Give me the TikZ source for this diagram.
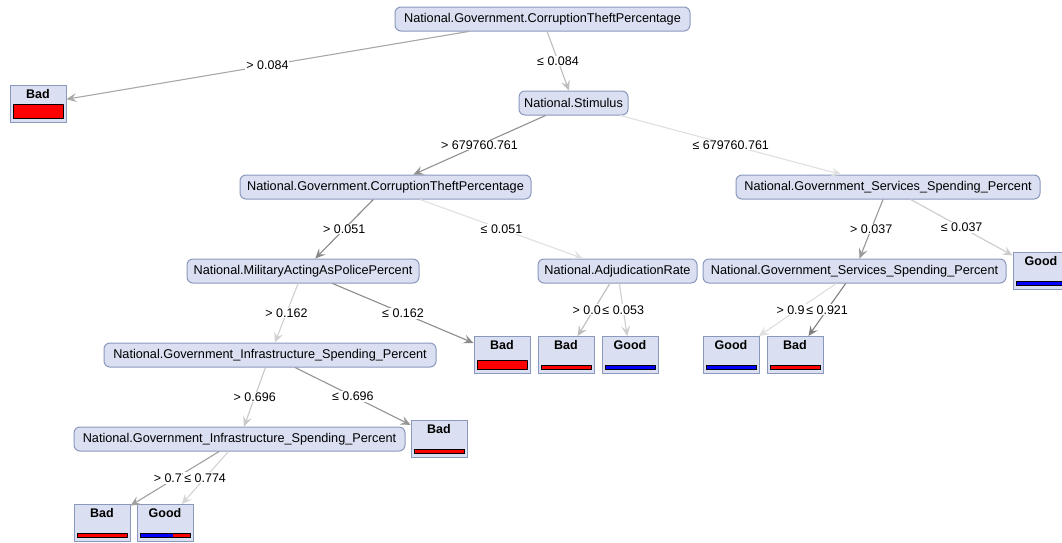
\documentclass[tikz,border=0pt]{standalone}
\usepackage{fontspec}
\setmainfont{Liberation Sans}
\usetikzlibrary{arrows.meta,calc}
\definecolor{nodefill}{RGB}{218,224,242}
\definecolor{nodeline}{RGB}{138,152,188}
\definecolor{barred}{RGB}{255,0,0}
\definecolor{barblue}{RGB}{0,0,255}
\tikzset{
 inner/.style={draw=nodeline, fill=nodefill, rounded corners=6pt, minimum height=24pt, inner sep=0pt, line width=1pt, font=\fontsize{12.7}{14}\selectfont},
 leafbox/.style={draw=nodeline, fill=nodefill, minimum width=56pt, minimum height=37pt, inner sep=0pt, line width=1pt},
 leaftext/.style={font=\fontsize{12.5}{14}\selectfont\bfseries, inner sep=0pt},
 edge/.style={line width=1.1pt, -{Stealth[length=10pt,width=9pt,inset=4pt]}},
 elabel/.style={fill=white, text=black, inner sep=1pt, font=\fontsize{12.5}{14}\selectfont, midway},
}
\newcommand\leafnode[6]{%
 \node[leafbox] (#1) at (#2,#3) {};
 \node[leaftext] at (#2,#3-9.5) {#4};
 \pgfmathsetmacro\leafbarx{#2-25+50*#6}
 \fill[barblue] (#2-25,#3+14.5-#5) rectangle (\leafbarx,#3+14.5);
 \fill[barred] (\leafbarx,#3+14.5-#5) rectangle (#2+25,#3+14.5);
 \draw[black, line width=0.8pt] (#2-25,#3+14.5-#5) rectangle (#2+25,#3+14.5);
}
\begin{document}
\begin{tikzpicture}[x=1pt,y=-1pt]
\useasboundingbox[fill=white] (0,0) rectangle (1062,542);
% internal nodes
\node[inner, minimum width=295pt] (root) at (542.5,19) {National.Government.CorruptionTheftPercentage};
\node[inner, minimum width=109pt] (stim) at (573.5,103) {National.Stimulus};
\node[inner, minimum width=291pt] (corr) at (385.5,187) {National.Government.CorruptionTheftPercentage};
\node[inner, minimum width=304pt] (serv) at (888,187) {National.Government\_Services\_Spending\_Percent};
\node[inner, minimum width=232pt] (mil) at (303,271) {National.MilitaryActingAsPolicePercent};
\node[inner, minimum width=159pt] (adj) at (617.5,271) {National.AdjudicationRate};
\node[inner, minimum width=303pt] (servb) at (854.5,271) {National.Government\_Services\_Spending\_Percent};
\node[inner, minimum width=332pt] (infra) at (270,355) {National.Government\_Infrastructure\_Spending\_Percent};
\node[inner, minimum width=331pt] (infrab) at (239.5,439) {National.Government\_Infrastructure\_Spending\_Percent};
% leaves
\leafnode{badA}{38}{104}{Bad}{14}{0}
\leafnode{goodR}{1041}{271}{Good}{4.5}{1}
\leafnode{badM}{502}{355}{Bad}{9}{0}
\leafnode{badJ}{566}{355}{Bad}{4.5}{0}
\leafnode{goodJ}{630}{355}{Good}{4.5}{1}
\leafnode{goodS}{731}{355}{Good}{4.5}{1}
\leafnode{badS}{795}{355}{Bad}{4.5}{0}
\leafnode{badI}{439}{439}{Bad}{4.5}{0}
\leafnode{badB}{102}{523}{Bad}{4.5}{0}
\leafnode{goodB}{165}{523}{Good}{4.5}{0.65}
% edges
\draw[edge, color={rgb,255:red,168;green,168;blue,168}] (root) -- node[elabel] {> 0.084} (badA);
\draw[edge, color={rgb,255:red,190;green,190;blue,190}] (root) -- node[elabel] {≤ 0.084} (stim);
\draw[edge, color={rgb,255:red,145;green,145;blue,145}] (stim) -- node[elabel] {> 679760.761} (corr);
\draw[edge, color={rgb,255:red,224;green,224;blue,224}] (stim) -- node[elabel] {≤ 679760.761} (serv);
\draw[edge, color={rgb,255:red,136;green,136;blue,136}] (corr) -- node[elabel] {> 0.051} (mil);
\draw[edge, color={rgb,255:red,224;green,224;blue,224}] (corr) -- node[elabel] {≤ 0.051} (adj);
\draw[edge, color={rgb,255:red,153;green,153;blue,153}] (serv) -- node[elabel] {> 0.037} (servb);
\draw[edge, color={rgb,255:red,204;green,204;blue,204}] (serv) -- node[elabel] {≤ 0.037} (goodR);
\draw[edge, color={rgb,255:red,208;green,208;blue,208}] (mil) -- node[elabel] {> 0.162} (infra);
\draw[edge, color={rgb,255:red,140;green,140;blue,140}] (mil) -- node[elabel] {≤ 0.162} (badM);
\draw[edge, color={rgb,255:red,189;green,189;blue,189}] (adj) -- node[elabel] {> 0.053} (badJ);
\draw[edge, color={rgb,255:red,207;green,207;blue,207}] (adj) -- node[elabel] {≤ 0.053} (goodJ);
\draw[edge, color={rgb,255:red,222;green,222;blue,222}] (servb) -- node[elabel] {> 0.921} (goodS);
\draw[edge, color={rgb,255:red,128;green,128;blue,128}] (servb) -- node[elabel] {≤ 0.921} (badS);
\draw[edge, color={rgb,255:red,200;green,200;blue,200}] (infra) -- node[elabel] {> 0.696} (infrab);
\draw[edge, color={rgb,255:red,149;green,149;blue,149}] (infra) -- node[elabel] {≤ 0.696} (badI);
\draw[edge, color={rgb,255:red,160;green,160;blue,160}] (infrab) -- node[elabel] {> 0.774} (badB);
\draw[edge, color={rgb,255:red,212;green,212;blue,212}] (infrab) -- node[elabel] {≤ 0.774} (goodB);
\end{tikzpicture}
\end{document}
